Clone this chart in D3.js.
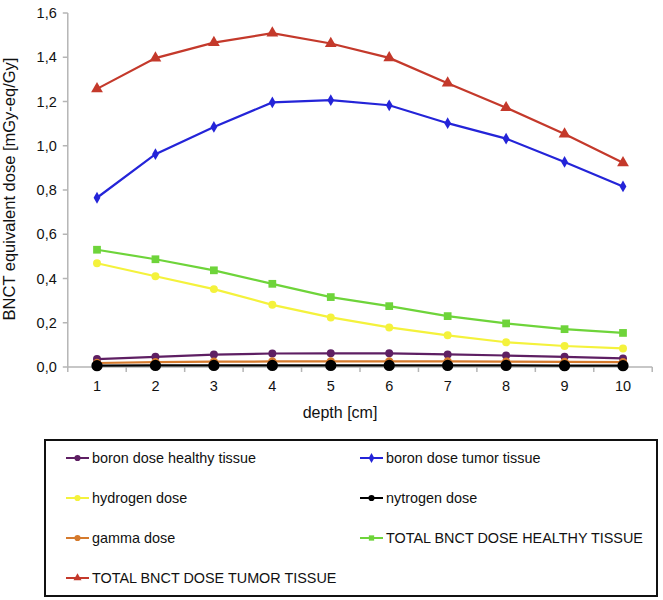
<!DOCTYPE html>
<html><head><meta charset="utf-8">
<script src="https://cdn.jsdelivr.net/npm/d3@7"></script>
<style>body{margin:0;background:#fff;} text{font-family:"Liberation Sans",Arial,sans-serif;}</style>
</head><body><svg id="c" width="663" height="600"></svg>
<script>
const depths = [1,2,3,4,5,6,7,8,9,10];
const yTicks = [0,0.2,0.4,0.6,0.8,1.0,1.2,1.4,1.6];
const boronHealthy = [0.036,0.046,0.056,0.061,0.062,0.062,0.057,0.052,0.046,0.039];
const boronTumor = [0.765,0.962,1.085,1.196,1.206,1.183,1.102,1.032,0.927,0.816];
const hydrogen = [0.469,0.410,0.352,0.281,0.224,0.179,0.143,0.112,0.095,0.084];
const nytrogen = [0.006,0.007,0.007,0.007,0.007,0.007,0.007,0.007,0.006,0.006];
const gamma = [0.018,0.022,0.024,0.025,0.025,0.025,0.025,0.024,0.023,0.022];
const totalHealthy = [0.530,0.487,0.437,0.376,0.316,0.275,0.230,0.197,0.171,0.154];
const totalTumor = [1.257,1.396,1.466,1.509,1.462,1.397,1.283,1.172,1.053,0.923];
const seriesNames = ["boron dose healthy tissue","boron dose tumor tissue","hydrogen dose","nytrogen dose","gamma dose","TOTAL BNCT DOSE HEALTHY TISSUE","TOTAL BNCT DOSE TUMOR TISSUE"];

const series = [
  {name:seriesNames[0], values:boronHealthy, color:"#5e1f63", shape:"circle", size:50},
  {name:seriesNames[1], values:boronTumor, color:"#2424d8", shape:"diamond", size:40},
  {name:seriesNames[2], values:hydrogen, color:"#f4f23c", shape:"circle", size:50},
  {name:seriesNames[3], values:nytrogen, color:"#000000", shape:"circle", size:100},
  {name:seriesNames[4], values:gamma, color:"#d57a2d", shape:"circle", size:55},
  {name:seriesNames[5], values:totalHealthy, color:"#6ed43a", shape:"square", size:60},
  {name:seriesNames[6], values:totalTumor, color:"#c4392b", shape:"triangle", size:60}
];
const shapes = {circle:d3.symbolCircle, diamond:d3.symbolDiamond, square:d3.symbolSquare, triangle:d3.symbolTriangle};

const svg = d3.select("#c");
const x = d3.scalePoint().domain(depths).range([97,623]);
const y = d3.scaleLinear().domain([0,1.6]).range([367,13]);
const step = x.step();
const x0 = x(depths[0]) - step/2, x1 = x(depths[depths.length-1]) + step/2;
const axisColor = "#b5b5b5";

// y axis
const yAxis = svg.append("g");
yAxis.append("line").attr("x1",x0).attr("x2",x0).attr("y1",y(1.6)).attr("y2",y(0)).attr("stroke",axisColor).attr("stroke-width",1.5);
yTicks.forEach(t=>{
  yAxis.append("line").attr("x1",x0-5).attr("x2",x0).attr("y1",y(t)).attr("y2",y(t)).attr("stroke",axisColor).attr("stroke-width",1.5);
  yAxis.append("text").attr("x",x0-11).attr("y",y(t)).attr("dy","0.35em").attr("text-anchor","end")
    .attr("font-size",14.5).attr("fill","#111").text(d3.format(".1f")(t).replace(".",","));
});
// x axis
const xAxis = svg.append("g");
xAxis.append("line").attr("x1",x0).attr("x2",x1).attr("y1",y(0)).attr("y2",y(0)).attr("stroke",axisColor).attr("stroke-width",1.5);
d3.range(depths.length+1).forEach(i=>{
  const xx = x0 + i*step;
  xAxis.append("line").attr("x1",xx).attr("x2",xx).attr("y1",y(0)).attr("y2",y(0)+5).attr("stroke",axisColor).attr("stroke-width",1.5);
});
depths.forEach(d=>{
  xAxis.append("text").attr("x",x(d)).attr("y",y(0)+24).attr("text-anchor","middle").attr("font-size",14.5).attr("fill","#111").text(d);
});
svg.append("text").attr("x",340).attr("y",418).attr("text-anchor","middle").attr("font-size",16).attr("fill","#111").text("depth [cm]");
svg.append("text").attr("transform","translate(15,189) rotate(-90)").attr("text-anchor","middle").attr("font-size",16.5).attr("fill","#111").text("BNCT equivalent dose [mGy-eq/Gy]");

// lines
const line = d3.line().x((v,i)=>x(depths[i])).y(v=>y(v));
const order = [6,1,5,2,0,4,3];
order.forEach(k=>{
  const s = series[k];
  const g = svg.append("g");
  g.append("path").attr("d",line(s.values)).attr("fill","none").attr("stroke",s.color).attr("stroke-width",2.2);
  g.selectAll("path.m").data(s.values).join("path").attr("class","m")
    .attr("transform",(v,i)=>`translate(${x(depths[i])},${y(v)})`)
    .attr("d",d3.symbol().type(shapes[s.shape]).size(s.size)).attr("fill",s.color);
});

// legend
const lg = svg.append("g");
lg.append("rect").attr("x",45).attr("y",440).attr("width",612).attr("height",156).attr("fill","none").attr("stroke","#111").attr("stroke-width",2);
const colX = [66,360], rowY = [458,498,538,578];
series.forEach((s,i)=>{
  const cx = colX[i%2], cy = rowY[Math.floor(i/2)];
  lg.append("line").attr("x1",cx).attr("x2",cx+23).attr("y1",cy).attr("y2",cy).attr("stroke",s.color).attr("stroke-width",2);
  lg.append("path").attr("transform",`translate(${cx+11.5},${cy})`).attr("d",d3.symbol().type(shapes[s.shape]).size(s.shape==="circle"?30:28)).attr("fill",s.color);
  lg.append("text").attr("x",cx+26).attr("y",cy).attr("dy","0.35em").attr("font-size",14.4).attr("fill","#111").text(s.name);
});
</script></body></html>
